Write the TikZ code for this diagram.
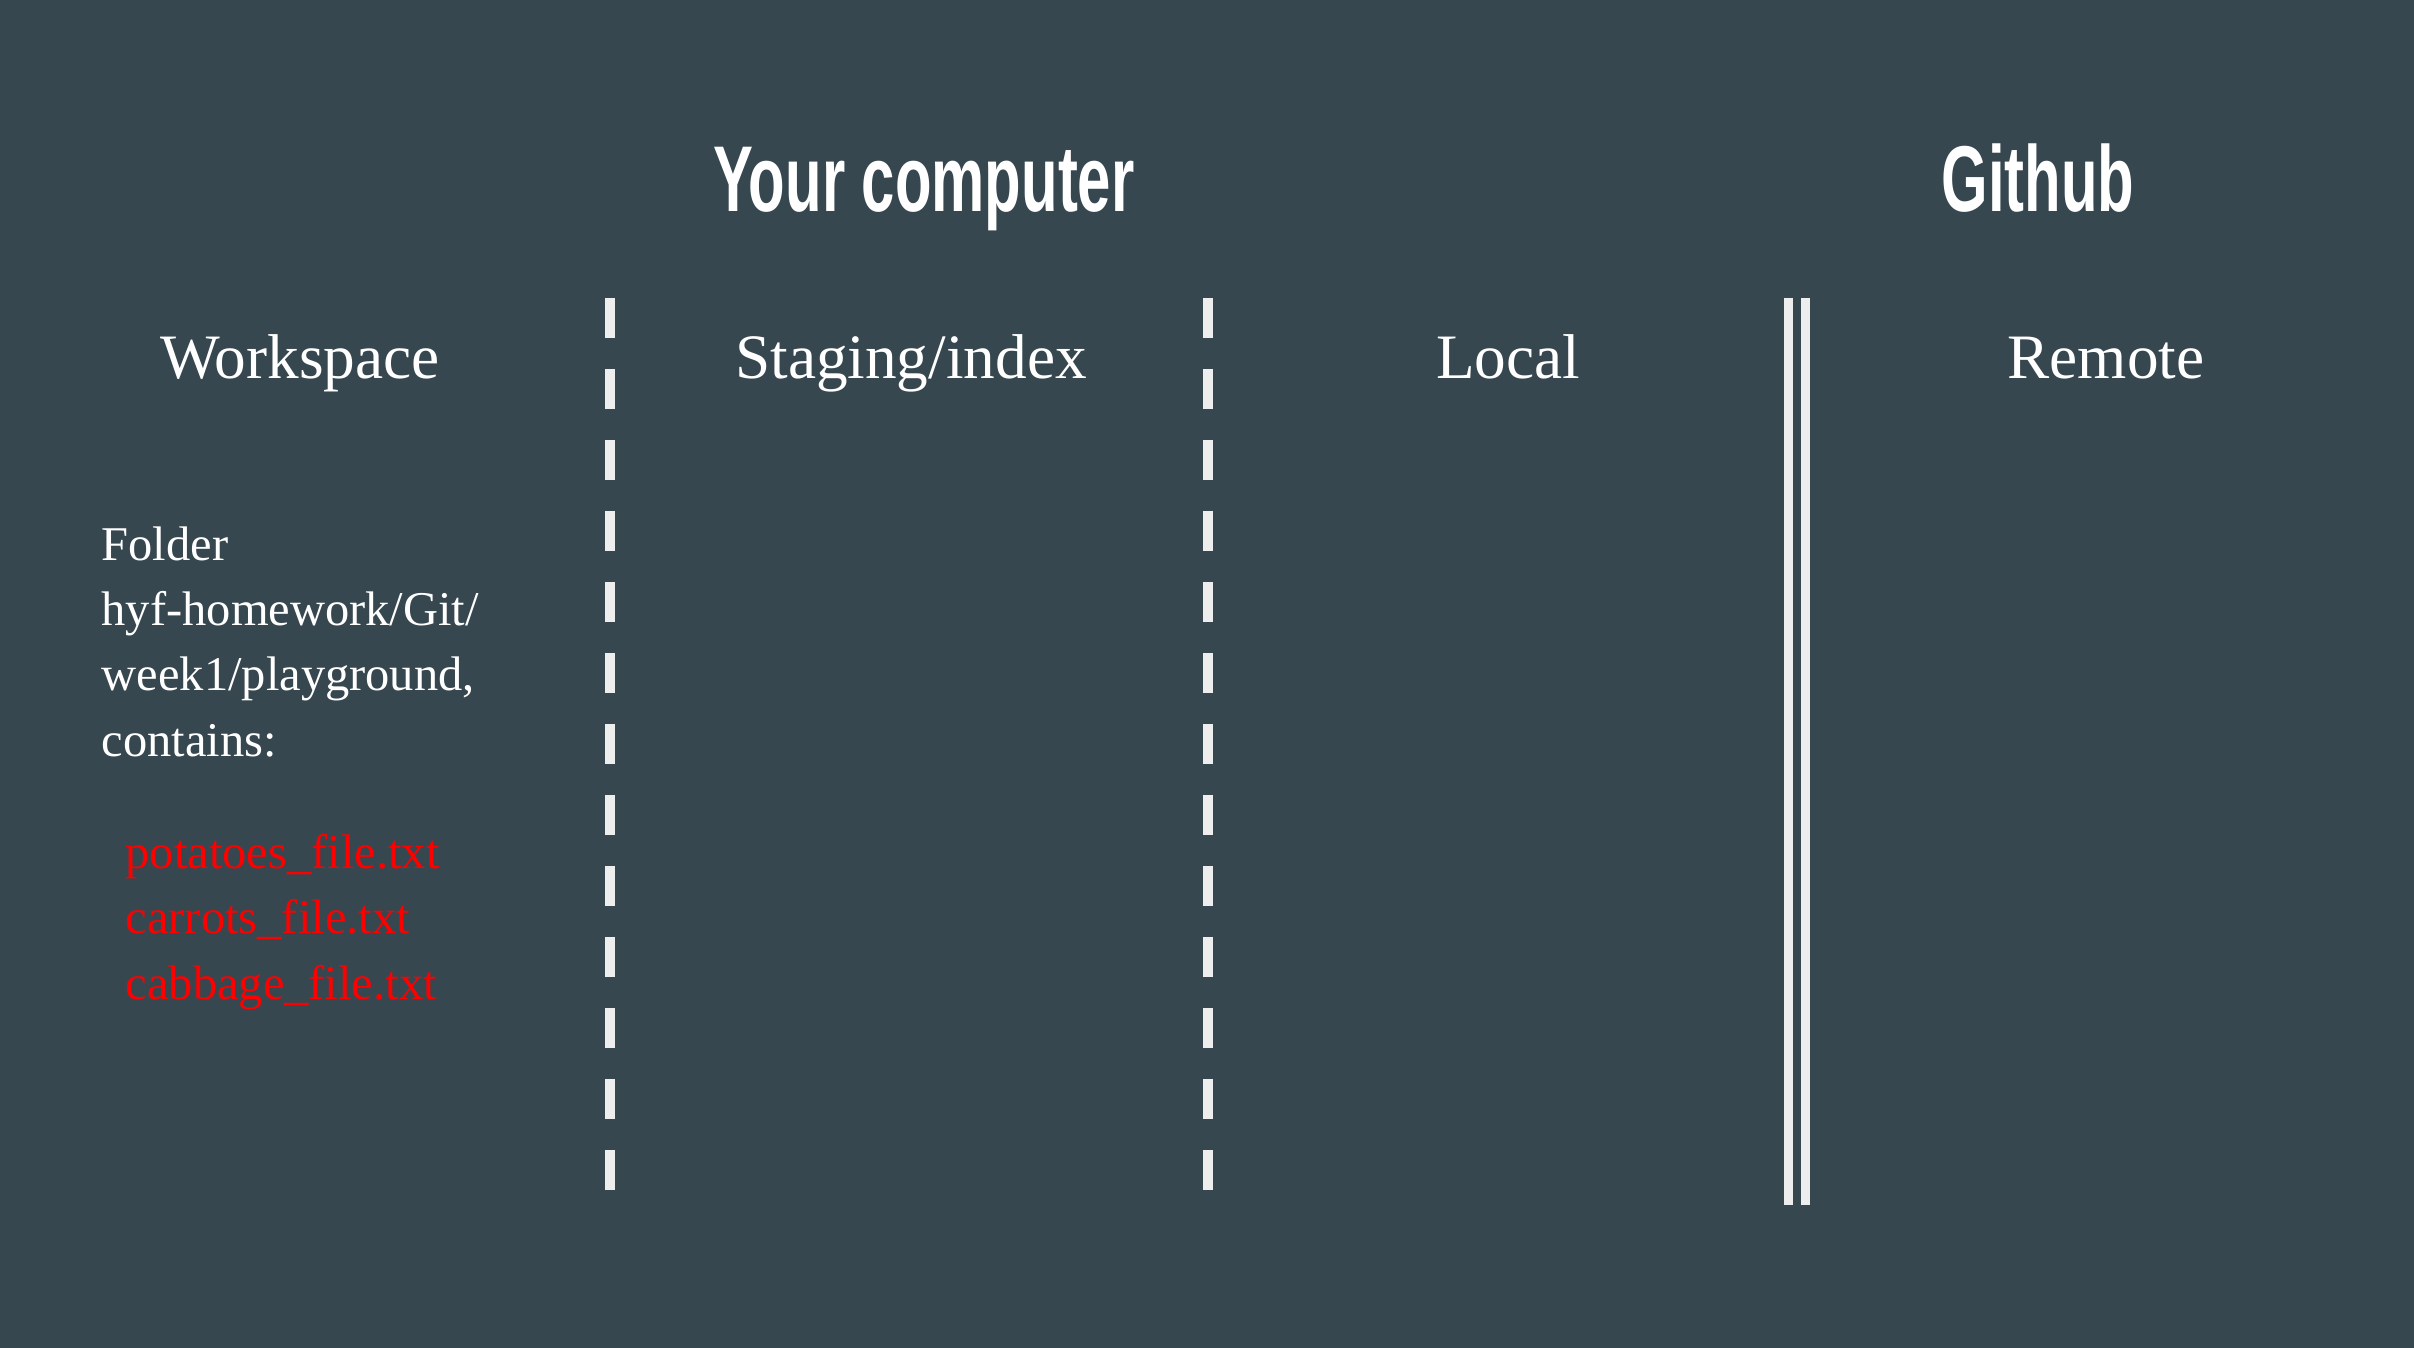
\documentclass[tikz,border=0pt]{standalone}
\usepackage{fontspec}
\setmainfont{Liberation Serif}
\newfontfamily\titlefont[FakeStretch=0.64]{Liberation Sans}
\definecolor{slate}{HTML}{37474F}
\definecolor{divider}{HTML}{EEEEEE}
\definecolor{filered}{HTML}{FF0000}
\tikzset{
    x=0.1mm, y=-0.1mm, % one unit is one pixel of the slide, y grows downwards
    }

\begin{document}
\begin{tikzpicture}[
titlenode/.style={anchor=base, inner sep=0pt, text=white, font=\titlefont\bfseries\fontsize{26.6}{32}\selectfont},
areanode/.style={anchor=base, inner sep=0pt, text=white, font=\fontsize{18}{22}\selectfont},
bodynode/.style={anchor=base west, inner sep=0pt, text=white, font=\fontsize{13.8}{18.6}\selectfont},
filenode/.style={bodynode, text=filered},
dashline/.style={draw=divider, line width=1mm, dash pattern=on 4mm off 3.1mm},
solidline/.style={draw=divider, line width=0.9mm},
]
\fill[slate] (0,0) rectangle (2414,1348);

% headings
\node[titlenode] (computer) at (924,212) {Your computer};
\node[titlenode] (github) at (2038,212) {Github};

\node[areanode] (workspace) at (300,379) {Workspace};
\node[areanode] (staging) at (911,379) {Staging/index};
\node[areanode] (local) at (1508,379) {Local};
\node[areanode] (remote) at (2106,379) {Remote};

% workspace contents
\node[bodynode] (folder) at (101,561) {Folder};
\node[bodynode] (path1) at (101,626) {hyf-homework/Git/};
\node[bodynode] (path2) at (101,691) {week1/playground,};
\node[bodynode] (contains) at (101,757) {contains:};

\node[filenode] (potatoes) at (125,869) {potatoes\_file.txt};
\node[filenode] (carrots) at (125,934) {carrots\_file.txt};
\node[filenode] (cabbage) at (125,1000) {cabbage\_file.txt};

% dividers
\coordinate (divA top) at (610,298);
\coordinate (divA bottom) at (610,1190);
\coordinate (divB top) at (1208,298);
\coordinate (divB bottom) at (1208,1190);
\coordinate (divC top) at (1788,298);
\coordinate (divC bottom) at (1788,1205);
\coordinate (divD top) at (1805.5,298);
\coordinate (divD bottom) at (1805.5,1205);

\draw[dashline] (divA top) -- (divA bottom);
\draw[dashline] (divB top) -- (divB bottom);
\draw[solidline] (divC top) -- (divC bottom);
\draw[solidline] (divD top) -- (divD bottom);
\end{tikzpicture}
\end{document}
